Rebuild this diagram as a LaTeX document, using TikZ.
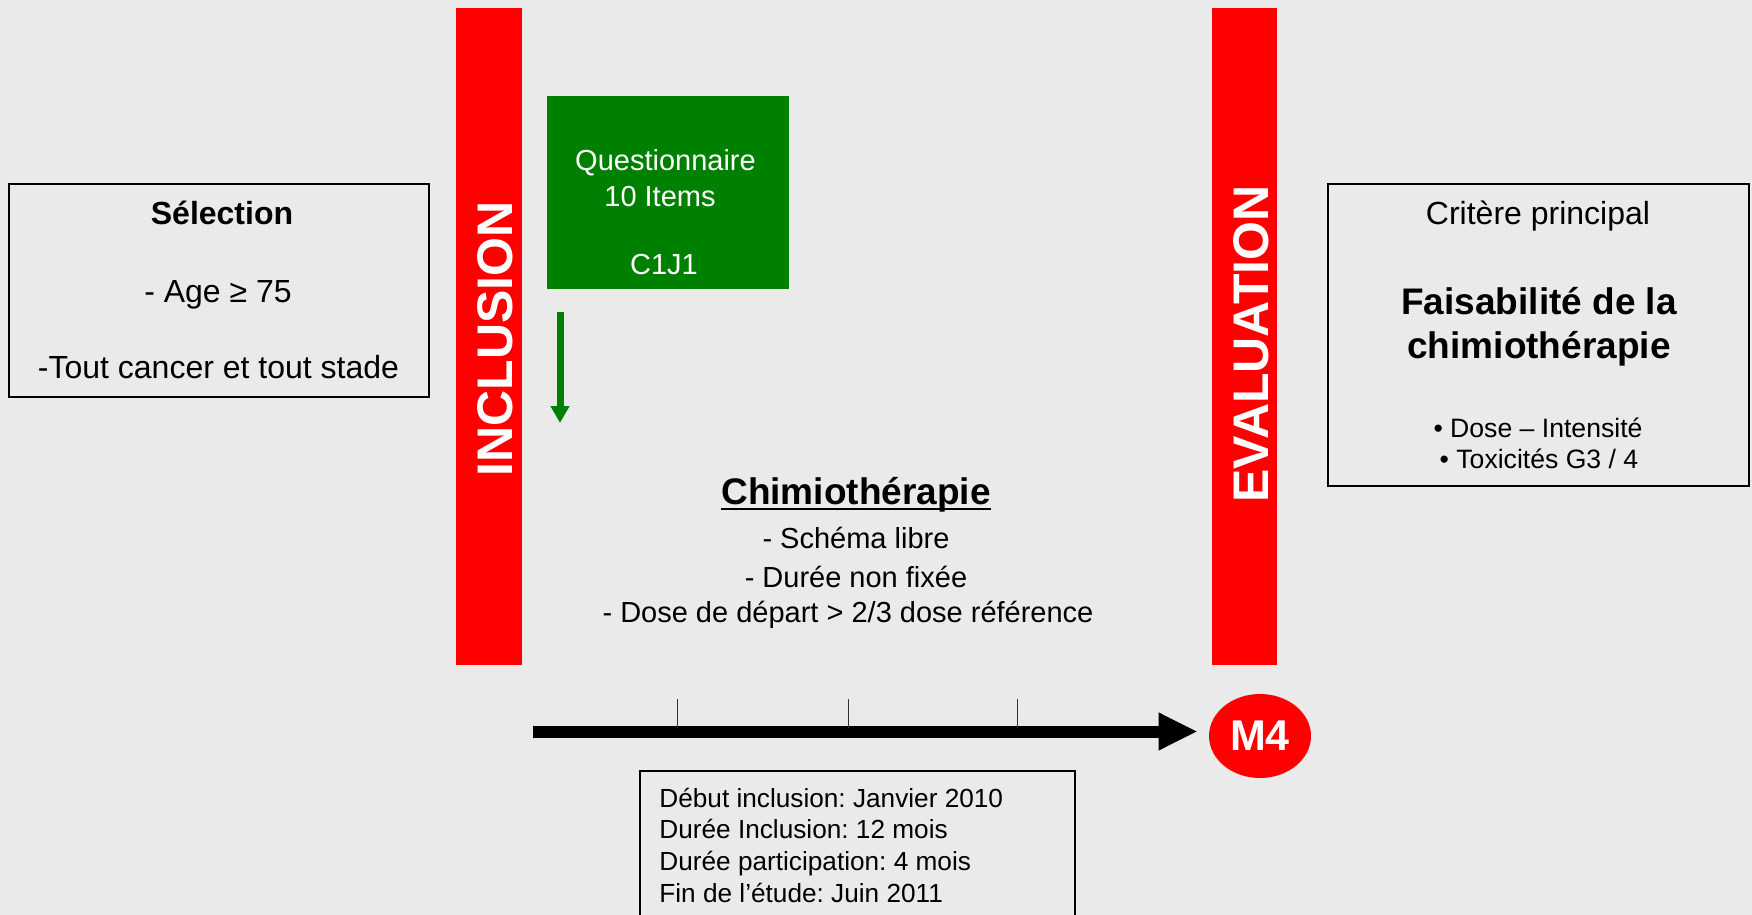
\documentclass[tikz,border=0pt]{standalone}
\usepackage{fontspec}
\setmainfont{Liberation Sans}
\frenchspacing
\usetikzlibrary{arrows.meta,shapes.geometric}
\definecolor{bg}{RGB}{234,234,234}
\definecolor{barred}{RGB}{255,0,0}
\definecolor{qgreen}{RGB}{0,128,0}
\tikzset{
  bar/.style={fill=barred, draw=none, inner sep=0pt},
  bartext/.style={text=white, font=\fontsize{25pt}{30pt}\selectfont\bfseries, rotate=90, inner sep=0pt},
  infobox/.style={draw=black, line width=0.75pt, fill=none, inner sep=0pt},
  txt/.style={inner sep=0pt, anchor=base},
  wtxt/.style={inner sep=0pt, anchor=base, text=white, font=\fontsize{14.5pt}{17pt}\selectfont},
  tick/.style={line width=0.5pt, draw=black!80},
  infotxt/.style={inner sep=0pt, anchor=base west, font=\fontsize{13.1pt}{15pt}\selectfont},
}
\begin{document}
\begin{tikzpicture}[x=0.5pt,y=-0.5pt]
\path[use as bounding box, fill=bg] (0,0) rectangle (1752,915);
\clip (0,0) rectangle (1752,915);

% vertical bars
\node[bar, minimum width=33pt, minimum height=328.5pt] (incl) at (489,336.5) {};
\node[bartext] (incltxt) at (495,339) {INCLUSION};
\node[bar, minimum width=32.5pt, minimum height=328.5pt] (eval) at (1244.5,336.5) {};
\node[bartext] (evaltxt) at (1251.5,344) {EVALUATION};

% Selection box
\node[infobox, minimum width=210pt, minimum height=106.5pt] (sel) at (219,290.5) {};
\node[txt, font=\fontsize{16pt}{18pt}\selectfont\bfseries] (sel1) at (222,225) {Sélection};
\node[txt, font=\fontsize{16pt}{18pt}\selectfont] (sel2) at (218,302) {- Age ≥ 75};
\node[txt, font=\fontsize{16pt}{18pt}\selectfont] (sel3) at (218.5,378) {-Tout cancer et tout stade};

% Questionnaire box
\node[fill=qgreen, draw=none, inner sep=0pt, minimum width=121pt, minimum height=96.5pt] (quest) at (668,192.5) {};
\node[wtxt] (q1) at (665.5,170) {Questionnaire};
\node[wtxt] (q2) at (660,206) {10 Items};
\node[wtxt] (q3) at (664,274) {C1J1};
\coordinate (qa) at (560,312);
\coordinate (qb) at (560,423);
\draw[qgreen, line width=3.5pt, -{Triangle[length=8.5pt,width=9pt]}] (qa) -- (qb);

% Chimiotherapie
\node[txt, font=\fontsize{18.5pt}{22pt}\selectfont\bfseries] (chimio) at (856,504) {Chimiothérapie};
\coordinate (ul) at (0,509);
\draw[line width=1pt] (chimio.base west |- ul) -- (chimio.base east |- ul);
\node[txt, font=\fontsize{14.5pt}{17pt}\selectfont] (c1) at (856,548) {- Schéma libre};
\node[txt, font=\fontsize{14.5pt}{17pt}\selectfont] (c2) at (856,587) {- Durée non fixée};
\node[txt, font=\fontsize{14.5pt}{17pt}\selectfont] (c3) at (848,622) {- Dose de départ > 2/3 dose référence};

% Critere box
\node[infobox, minimum width=210.5pt, minimum height=151pt] (crit) at (1538.5,335) {};
\node[txt, font=\fontsize{16pt}{18pt}\selectfont] (cr1) at (1538,225) {Critère principal};
\node[txt, font=\fontsize{18.5pt}{22pt}\selectfont\bfseries] (cr2) at (1539,314) {Faisabilité de la};
\node[txt, font=\fontsize{18.5pt}{22pt}\selectfont\bfseries] (cr3) at (1539,358) {chimiothérapie};
\node[txt, font=\fontsize{13.3pt}{15pt}\selectfont] (cr4) at (1538,437) {• Dose – Intensité};
\node[txt, font=\fontsize{13.3pt}{15pt}\selectfont] (cr5) at (1539,468) {• Toxicités G3 / 4};

% timeline
\node[ellipse, fill=barred, draw=none, inner sep=0pt, minimum width=51pt, minimum height=42pt,
      text=white, font=\fontsize{21.5pt}{26pt}\selectfont\bfseries] (m4) at (1260,736) {M4};
\coordinate (t0) at (533,731.5);
\draw[line width=6pt, shorten >=5.5pt, -{Triangle[length=19.5pt,width=17.5pt]}] (t0) -- (t0 -| m4.west);
\coordinate (k1a) at (677,699); \coordinate (k1b) at (677,728);
\coordinate (k2a) at (848,699); \coordinate (k2b) at (848,728);
\coordinate (k3a) at (1017,699); \coordinate (k3b) at (1017,728);
\draw[tick] (k1a) -- (k1b);
\draw[tick] (k2a) -- (k2b);
\draw[tick] (k3a) -- (k3b);

% info box
\node[infobox, minimum width=217.5pt, minimum height=90pt, anchor=north west] (info) at (639,770) {};
\node[infotxt] (i1) at (659,807) {Début inclusion: Janvier 2010};
\node[infotxt] (i2) at (659,838) {Durée Inclusion: 12 mois};
\node[infotxt] (i3) at (659,870) {Durée participation: 4 mois};
\node[infotxt] (i4) at (659,902) {Fin de l’étude: Juin 2011};
\end{tikzpicture}
\end{document}
